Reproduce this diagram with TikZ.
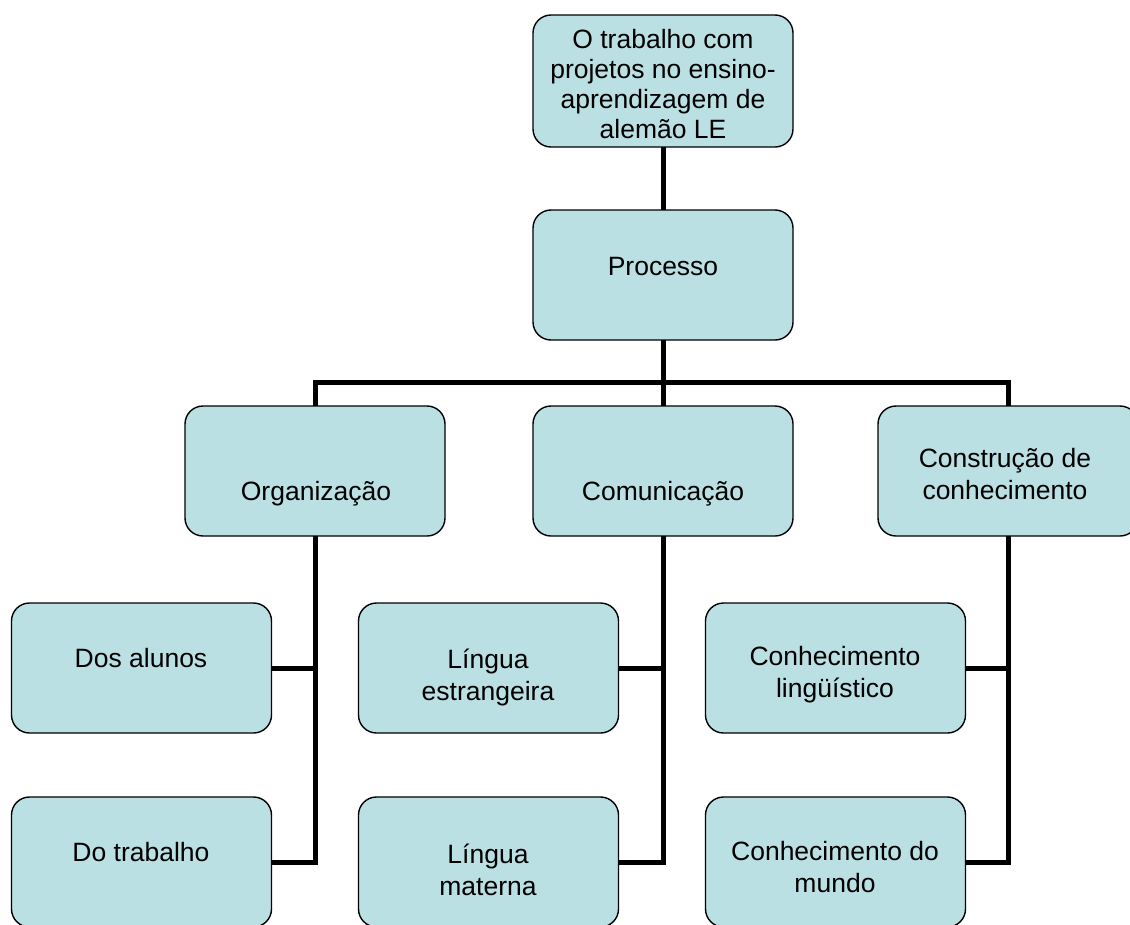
\documentclass[tikz,border=0pt]{standalone}
\usepackage{fontspec}
\setmainfont{Liberation Sans}
\definecolor{boxfill}{RGB}{187,224,227}
\tikzset{
  box/.style={draw=black, line width=1.4pt, fill=boxfill, rounded corners=18pt,
    minimum width=260pt, minimum height=130pt, inner sep=0pt, outer sep=0pt},
  lbl/.style={anchor=base, align=center, inner sep=0pt,
    font=\fontsize{26.5}{32}\selectfont},
  conn/.style={draw=black, line width=5pt}
}
\begin{document}
\begin{tikzpicture}[x=1pt,y=-1pt]
\useasboundingbox (0,0) rectangle (1130,924);
\clip (0,0) rectangle (1130,924);
% boxes
\node[box, minimum height=132pt] (top) at (663,81) {};
\node[box] (proc) at (663,275) {};
\node[box] (org) at (315,471) {};
\node[box] (com) at (663,471) {};
\node[box] (con) at (1008,471) {};
\node[box] (dos) at (141.5,668) {};
\node[box] (lest) at (488.5,668) {};
\node[box] (clin) at (835.5,668) {};
\node[box] (dot) at (141.5,862) {};
\node[box] (lmat) at (488.5,862) {};
\node[box] (cmun) at (835.5,862) {};
% connectors
\coordinate (j) at (663,382);
\draw[conn] (top.south) -- (proc.north);
\draw[conn] (proc.south) -- (j);
\draw[conn] (org.north) |- (j) -| (con.north);
\draw[conn] (j) -- (com.north);
\draw[conn] (org.south) |- (dot.east);
\draw[conn] (dos.east) -- (dos.east -| org.south);
\draw[conn] (com.south) |- (lmat.east);
\draw[conn] (lest.east) -- (lest.east -| com.south);
\draw[conn] (con.south) |- (cmun.east);
\draw[conn] (clin.east) -- (clin.east -| con.south);
% labels (anchor base = baseline of last line)
\node[lbl, font=\fontsize{26.5}{30}\selectfont] (ttop) at (663,138) {O trabalho com\\projetos no ensino-\\aprendizagem de\\alemão LE};
\node[lbl] (tproc) at (663,275) {Processo};
\node[lbl] (torg) at (316,500) {Organização};
\node[lbl] (tcom) at (663,500) {Comunicação};
\node[lbl] (tcon) at (1005,499) {Construção de\\conhecimento};
\node[lbl] (tdos) at (141,667) {Dos alunos};
\node[lbl] (tlest) at (488,700) {Língua\\estrangeira};
\node[lbl] (tclin) at (835,697) {Conhecimento\\lingüístico};
\node[lbl] (tdot) at (141,861) {Do trabalho};
\node[lbl] (tlmat) at (488,895) {Língua\\materna};
\node[lbl] (tcmun) at (835,892) {Conhecimento do\\mundo};
\end{tikzpicture}
\end{document}
